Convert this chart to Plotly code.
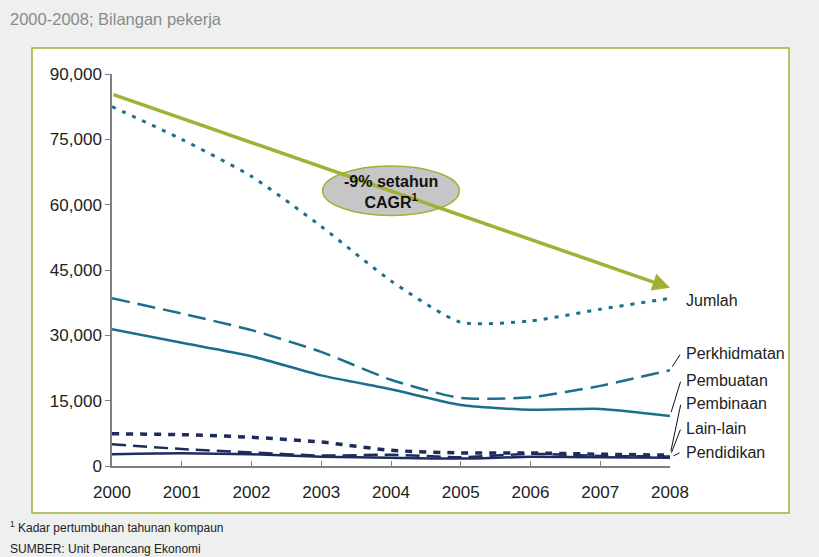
import plotly.graph_objects as go

years = [2000, 2001, 2002, 2003, 2004, 2005, 2006, 2007, 2008]
jumlah = [82500, 75000, 66500, 55000, 42500, 33000, 33300, 36000, 38500]
perkhidmatan = [38500, 35000, 31200, 26200, 19800, 15600, 15800, 18400, 22000]
pembuatan = [31400, 28300, 25200, 20800, 17600, 14000, 12900, 13100, 11500]
pembinaan = [7400, 7200, 6600, 5500, 3600, 3000, 3000, 2700, 2500]
lain_lain = [5000, 3900, 3100, 2400, 2600, 2000, 2800, 2300, 2200]
pendidikan = [2700, 2900, 2700, 2100, 1900, 1700, 2100, 2000, 1900]
cagr_start = 85400
cagr_end = 40900
y_ticks = [0, 15000, 30000, 45000, 60000, 75000, 90000]
label_y = {"Jumlah": 38100, "Perkhidmatan": 25900, "Pembuatan": 19700,
           "Pembinaan": 14400, "Lain-lain": 8700, "Pendidikan": 3200}

TEAL = "#1C6F8C"
NAVY = "#1E2B5E"
OLIVE = "#A3B035"
FONT = "Arial, Liberation Sans, sans-serif"

W, H = 819, 557
ML, MR, MT, MB = 112, 149, 74, 91
plot_w, plot_h = W - ML - MR, H - MT - MB


def px(x):
    return (x - ML) / plot_w


def py(y):
    return (H - MB - y) / plot_h


fig = go.Figure()
series = [
    ("Jumlah", jumlah, TEAL, "4px,7px", 3),
    ("Perkhidmatan", perkhidmatan, TEAL, "18px,8px", 2.5),
    ("Pembuatan", pembuatan, TEAL, "solid", 2.5),
    ("Pembinaan", pembinaan, NAVY, "7px,7px", 3.5),
    ("Lain-lain", lain_lain, NAVY, "14px,7px", 2.5),
    ("Pendidikan", pendidikan, NAVY, "solid", 2.5),
]
for name, vals, col, dash, w in series:
    fig.add_trace(go.Scatter(x=years, y=vals, mode="lines", name=name,
                             line=dict(color=col, dash=dash, width=w, shape="spline",
                                       smoothing=0.6),
                             showlegend=False, hoverinfo="skip"))

# white framed panel
fig.add_shape(type="rect", xref="paper", yref="paper", x0=px(32), x1=px(789),
              y0=py(513), y1=py(48), line=dict(color=OLIVE, width=1.5),
              fillcolor="white", layer="below")

# CAGR arrow
fig.add_annotation(x=2008, y=cagr_end, ax=2000, ay=cagr_start, axref="x", ayref="y",
                   xref="x", yref="y", text="", showarrow=True, arrowhead=2,
                   arrowsize=1, arrowwidth=3.5, arrowcolor=OLIVE)
fig.add_shape(type="circle", xref="x", yref="y", x0=2003.02, x1=2004.98,
              y0=57500, y1=68900, fillcolor="#C6C6C6", line=dict(color=OLIVE, width=1.5))
fig.add_annotation(x=2004, y=63000, xref="x", yref="y", showarrow=False,
                   text="<b>-9% setahun<br>CAGR<sup>1</sup></b>",
                   font=dict(family=FONT, size=16, color="#111111"))

# end labels and leader lines
for name, vals, col, dash, w in series:
    fig.add_annotation(x=px(684), y=label_y[name], xref="paper", yref="y", text=name,
                       showarrow=False, xanchor="left", yanchor="middle",
                       font=dict(family=FONT, size=16, color="#222222"))
    if name != "Jumlah":
        fig.add_annotation(x=2008, y=vals[-1], xref="x", yref="y", text="",
                           showarrow=True, arrowhead=0, arrowwidth=1, arrowcolor="#111111",
                           axref="pixel", ax=11, ayref="y", ay=label_y[name], standoff=4)

fig.add_annotation(x=px(8), y=py(19), xref="paper", yref="paper", xanchor="left",
                   yanchor="middle", text="2000-2008; Bilangan pekerja", showarrow=False,
                   font=dict(family=FONT, size=16.5, color="#8A8A8A"))
fig.add_annotation(x=px(8), y=py(527), xref="paper", yref="paper", xanchor="left",
                   yanchor="middle", text="<sup>1</sup> Kadar pertumbuhan tahunan kompaun",
                   showarrow=False, font=dict(family=FONT, size=12, color="#222222"))
fig.add_annotation(x=px(8), y=py(549), xref="paper", yref="paper", xanchor="left",
                   yanchor="middle", text="SUMBER: Unit Perancang Ekonomi",
                   showarrow=False, font=dict(family=FONT, size=12, color="#222222"))

fig.update_layout(
    width=W, height=H,
    margin=dict(l=ML, r=MR, t=MT, b=MB),
    paper_bgcolor="#EEEFEF", plot_bgcolor="white",
    font=dict(family=FONT, size=17, color="#222222"),
    xaxis=dict(range=[2000, 2008], tickvals=years, showgrid=False, zeroline=False,
               showline=True, linecolor="#7F7F7F", linewidth=1.5, ticks="inside",
               ticklen=5, tickcolor="#7F7F7F", ticklabelstandoff=10,
               tickfont=dict(size=17, color="#222222")),
    yaxis=dict(range=[0, 90000], tickvals=y_ticks, tickformat=",", showgrid=False,
               zeroline=False, showline=True, linecolor="#7F7F7F", linewidth=1.5,
               ticks="outside", ticklen=5, tickcolor="#7F7F7F",
               tickfont=dict(size=17, color="#222222")),
)

fig.write_html("out.html", config={"displayModeBar": False},
               post_script="document.body.style.margin='0';")
